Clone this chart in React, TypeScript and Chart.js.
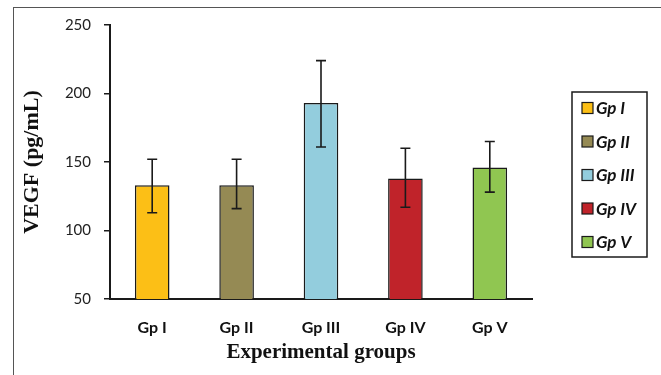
import React, { useEffect, useRef } from "react";
import { Chart, registerables } from "chart.js";

Chart.register(...registerables);

const categories = ["Gp I", "Gp II", "Gp III", "Gp IV", "Gp V"];
const means = [133, 133, 193, 138, 146];
const errUpper = [152, 152, 224, 160, 165];
const errLower = [113, 116, 161, 117, 128];
const barColors = ["#FCBF16", "#958A54", "#93CDDD", "#C0232A", "#90C651"];
const yTicks = [50, 100, 150, 200, 250];

const errorBarPlugin = {
  id: "errorBars",
  afterDatasetsDraw(chart: any) {
    const { ctx } = chart;
    const meta = chart.getDatasetMeta(0);
    const y = chart.scales.y;
    ctx.save();
    ctx.strokeStyle = "#1a1a1a";
    ctx.lineWidth = 1.6;
    meta.data.forEach((bar: any, i: number) => {
      const x = bar.x;
      const yHi = y.getPixelForValue(errUpper[i]);
      const yLo = y.getPixelForValue(errLower[i]);
      const cap = 5;
      ctx.beginPath();
      ctx.moveTo(x, yHi);
      ctx.lineTo(x, yLo);
      ctx.moveTo(x - cap, yHi);
      ctx.lineTo(x + cap, yHi);
      ctx.moveTo(x - cap, yLo);
      ctx.lineTo(x + cap, yLo);
      ctx.stroke();
    });
    ctx.restore();
  },
};

const frameAndLegendPlugin = {
  id: "frameLegend",
  beforeDraw(chart: any) {
    const { ctx, width, height } = chart;
    ctx.save();
    ctx.fillStyle = "#ffffff";
    ctx.fillRect(0, 0, width, height);
    ctx.strokeStyle = "#555555";
    ctx.lineWidth = 1;
    ctx.strokeRect(13.5, 7.5, width + 20, height + 20);
    ctx.restore();
  },
  afterDraw(chart: any) {
    const { ctx, chartArea } = chart;
    const left = chartArea.right + 40;
    const top = chartArea.top + 67;
    const w = 75;
    const h = 165;
    ctx.save();
    ctx.strokeStyle = "#1a1a1a";
    ctx.lineWidth = 1.5;
    ctx.strokeRect(left, top, w, h);
    ctx.font = "italic bold 17px Lato";
    ctx.textBaseline = "middle";
    ctx.textAlign = "left";
    categories.forEach((c, i) => {
      const cy = top + 16 + i * 33.5;
      ctx.fillStyle = barColors[i];
      ctx.fillRect(left + 10, cy - 5.5, 11, 11);
      ctx.strokeStyle = "#1a1a1a";
      ctx.lineWidth = 1.2;
      ctx.strokeRect(left + 10, cy - 5.5, 11, 11);
      ctx.fillStyle = "#111111";
      ctx.fillText(c, left + 24, cy + 1);
    });
    ctx.restore();
  },
};

export default function App() {
  const ref = useRef<HTMLCanvasElement | null>(null);
  useEffect(() => {
    document.body.style.margin = "0";
    if (!ref.current) return;
    const chart = new Chart(ref.current, {
      type: "bar",
      data: {
        labels: categories,
        datasets: [
          {
            data: means,
            backgroundColor: barColors,
            borderColor: "#1a1a1a",
            borderWidth: 1.5,
            categoryPercentage: 1,
            barPercentage: 0.41,
          },
        ],
      },
      options: {
        responsive: false,
        animation: false,
        layout: { padding: { left: 0, right: 129, top: 25, bottom: 0 } },
        plugins: { legend: { display: false }, tooltip: { enabled: false } },
        scales: {
          x: {
            grid: { display: false },
            border: { display: true, color: "#1a1a1a", width: 2 },
            ticks: {
              color: "#111111",
              font: { family: "Lato", size: 16, weight: "bold" },
              padding: 11,
            },
            title: {
              display: true,
              text: "Experimental groups",
              color: "#111111",
              font: { family: "Liberation Serif", size: 21, weight: "bold" },
              padding: { top: 0, bottom: 10 },
            },
            afterFit: (s: any) => {
              s.height = 76;
            },
          },
          y: {
            min: 50,
            max: 250,
            afterBuildTicks: (s: any) => {
              s.ticks = yTicks.map((v) => ({ value: v }));
            },
            grid: {
              drawOnChartArea: false,
              drawTicks: true,
              tickLength: 6,
              color: "#1a1a1a",
              lineWidth: 1.5,
            },
            border: { display: true, color: "#1a1a1a", width: 2 },
            ticks: {
              color: "#222222",
              font: { family: "Lato", size: 15 },
              padding: 13,
            },
            title: {
              display: true,
              text: "VEGF (pg/mL)",
              color: "#111111",
              font: { family: "Liberation Serif", size: 22, weight: "bold" },
              padding: { top: 19, bottom: 0 },
            },
            afterFit: (s: any) => {
              s.width = 110;
            },
          },
        },
      },
      plugins: [errorBarPlugin, frameAndLegendPlugin],
    });
    return () => chart.destroy();
  }, []);
  return (
    <div style={{ width: 661, height: 375 }}>
      <canvas ref={ref} width={661} height={375} style={{ width: 661, height: 375, display: "block" }} />
    </div>
  );
}
